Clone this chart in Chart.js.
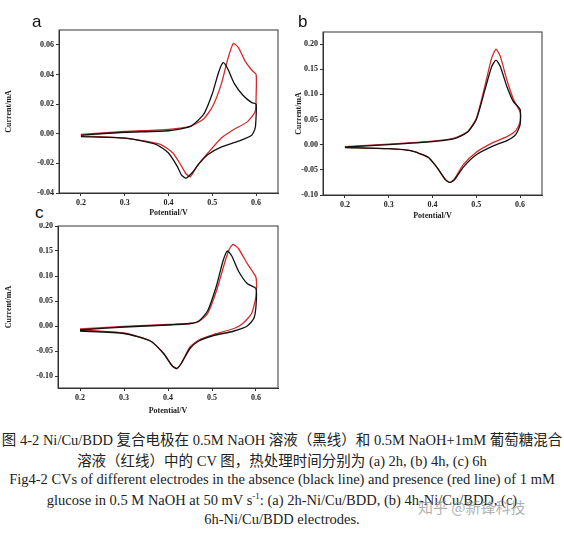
<!DOCTYPE html>
<html><head><meta charset="utf-8">
<script src="https://cdn.jsdelivr.net/npm/chart.js@4"></script>
<style>
body{margin:0;background:#fff;width:564px;height:533px;position:relative;overflow:hidden;font-family:"Liberation Serif","Noto Sans CJK SC",serif}
.box{position:absolute}
.lbl{position:absolute;font-family:"Liberation Sans",Arial,sans-serif;font-size:17px;color:#111}
.cap{position:absolute;left:0;width:564px;text-align:center;font-size:14.5px;color:#222;white-space:nowrap}
.wm{position:absolute;left:418px;top:496px;font-family:"Noto Sans CJK SC";font-size:15px;color:rgba(150,150,150,0.75)}
</style></head><body>
<div class="box" style="left:0;top:0;width:290px;height:222px"><canvas id="ca"></canvas></div>
<div class="box" style="left:290px;top:0;width:274px;height:225px"><canvas id="cb"></canvas></div>
<div class="box" style="left:0;top:200px;width:290px;height:222px;background:transparent"><canvas id="cc"></canvas></div>
<div class="lbl" style="left:32px;top:12px">a</div>
<div class="lbl" style="left:298px;top:12px">b</div>
<div class="lbl" style="left:33px;top:203px;background:#fff;padding:0 2px">c</div>
<div class="cap" style="top:428px">图 4-2 Ni/Cu/BDD 复合电极在 0.5M NaOH 溶液（黑线）和 0.5M NaOH+1mM 葡萄糖混合</div>
<div class="cap" style="top:449px">溶液（红线）中的 CV 图，热处理时间分别为 (a) 2h, (b) 4h, (c) 6h</div>
<div class="cap" style="top:471px">Fig4-2 CVs of different electrodes in the absence (black line) and presence (red line) of 1 mM</div>
<div class="cap" style="top:491px">glucose in 0.5 M NaOH at 50 mV s<sup style="font-size:9px">-1</sup>: (a) 2h-Ni/Cu/BDD, (b) 4h-Ni/Cu/BDD, (c)</div>
<div class="cap" style="top:511px">6h-Ni/Cu/BDD electrodes.</div>
<div class="wm">知乎 @新锋科技</div>
<script>
// Panel a
const aBlackX=[0.2,0.3,0.4,0.45,0.48,0.5,0.515,0.525,0.535,0.55,0.57,0.59,0.6,0.6,0.598,0.59,0.56,0.52,0.49,0.47,0.455,0.44,0.43,0.42,0.4,0.37,0.3,0.2];
const aBlackY=[-0.001,0.001,0.002,0.005,0.013,0.027,0.042,0.048,0.044,0.034,0.026,0.021,0.020,0.012,0.004,-0.001,-0.005,-0.009,-0.014,-0.020,-0.026,-0.030,-0.028,-0.022,-0.013,-0.007,-0.003,-0.002];
const aRedX=[0.2,0.3,0.4,0.45,0.48,0.5,0.52,0.535,0.548,0.56,0.575,0.59,0.6,0.6,0.598,0.58,0.55,0.52,0.49,0.465,0.45,0.44,0.43,0.41,0.38,0.3,0.2];
const aRedY=[-0.0005,0.0015,0.003,0.005,0.010,0.018,0.033,0.050,0.061,0.058,0.049,0.043,0.040,0.025,0.015,0.008,0.003,-0.003,-0.013,-0.022,-0.029,-0.027,-0.022,-0.013,-0.007,-0.003,-0.0015];
// Panel b
const bBlackX=[0.2,0.3,0.4,0.45,0.48,0.5,0.52,0.535,0.545,0.555,0.57,0.585,0.6,0.6,0.59,0.57,0.54,0.5,0.47,0.45,0.44,0.43,0.41,0.39,0.35,0.3,0.2];
const bBlackY=[-0.005,0.0,0.006,0.012,0.025,0.05,0.11,0.155,0.168,0.155,0.115,0.085,0.07,0.04,0.02,0.008,-0.002,-0.02,-0.045,-0.07,-0.075,-0.07,-0.045,-0.025,-0.012,-0.008,-0.006];
const bRedX=[0.2,0.3,0.4,0.45,0.48,0.5,0.52,0.535,0.545,0.555,0.57,0.585,0.6,0.6,0.59,0.57,0.54,0.5,0.47,0.45,0.44,0.43,0.41,0.39,0.35,0.3,0.2];
const bRedY=[-0.004,0.001,0.007,0.013,0.026,0.052,0.118,0.172,0.19,0.175,0.128,0.09,0.065,0.045,0.028,0.016,0.005,-0.015,-0.04,-0.068,-0.075,-0.07,-0.045,-0.025,-0.012,-0.008,-0.005];
// Panel c
const cBlackX=[0.2,0.3,0.4,0.45,0.47,0.49,0.51,0.525,0.535,0.545,0.56,0.58,0.6,0.6,0.595,0.58,0.55,0.5,0.47,0.45,0.43,0.42,0.41,0.39,0.36,0.3,0.2];
const cBlackY=[-0.008,-0.002,0.002,0.005,0.01,0.03,0.08,0.13,0.15,0.14,0.11,0.085,0.075,0.04,0.015,0.0,-0.01,-0.02,-0.03,-0.045,-0.075,-0.085,-0.08,-0.055,-0.03,-0.015,-0.01];
const cRedX=[0.2,0.3,0.4,0.45,0.47,0.49,0.51,0.53,0.54,0.548,0.56,0.58,0.6,0.6,0.59,0.57,0.55,0.5,0.47,0.45,0.43,0.42,0.41,0.39,0.36,0.3,0.2];
const cRedY=[-0.006,-0.001,0.003,0.005,0.009,0.025,0.07,0.13,0.155,0.163,0.155,0.125,0.097,0.06,0.025,0.005,-0.005,-0.018,-0.028,-0.042,-0.075,-0.085,-0.08,-0.055,-0.03,-0.014,-0.008];
const xTicks=[0.2,0.3,0.4,0.5,0.6];
const aTicks=[-0.04,-0.02,0,0.02,0.04,0.06];
const bTicks=[-0.10,-0.05,0,0.05,0.10,0.15,0.20];
const cTicks=[-0.10,-0.05,0,0.05,0.10,0.15,0.20];

const frame={id:'frame',afterDraw(c){const a=c.chartArea,x=c.ctx;x.save();x.strokeStyle='#333';x.lineWidth=1;x.strokeRect(a.left,a.top,a.right-a.left,a.bottom-a.top);x.restore();}};
const fnt={family:'"Liberation Serif",serif',size:8,weight:'bold'};
function pts(X,Y){return X.map((v,i)=>({x:v,y:Y[i]}));}
function mk(id,bx,by,rx,ry,ymin,ymax,yt,yw,xh,pad){
 new Chart(document.getElementById(id),{type:'scatter',
 data:{datasets:[
  {data:pts(bx,by),showLine:true,borderColor:'#111',borderWidth:1.3,pointRadius:0,tension:0.2},
  {data:pts(rx,ry),showLine:true,borderColor:'#d42a2a',borderWidth:1.3,pointRadius:0,tension:0.2}]},
 options:{responsive:true,maintainAspectRatio:false,animation:false,layout:{padding:pad},
  plugins:{legend:{display:false},tooltip:{enabled:false}},
  scales:{
   x:{type:'linear',min:0.15,max:0.65,afterBuildTicks:s=>{s.ticks=xTicks.map(v=>({value:v}));},afterFit:s=>{s.height=xh;},
     grid:{drawOnChartArea:false,tickLength:3,color:'#333'},border:{color:'#333'},
     ticks:{color:'#222',font:fnt,padding:2,callback:v=>v.toFixed(1)},
     title:{display:true,text:'Potential/V',color:'#222',font:fnt,padding:{top:3}}},
   y:{min:ymin,max:ymax,afterBuildTicks:s=>{s.ticks=yt.map(v=>({value:v}));},afterFit:s=>{s.width=yw;},
     grid:{drawOnChartArea:false,tickLength:3,color:'#333'},border:{color:'#333'},
     ticks:{color:'#222',font:fnt,padding:2,callback:v=>v.toFixed(2)},
     title:{display:true,text:'Current/mA',color:'#222',font:fnt,padding:{bottom:4}}}}},
 plugins:[frame]});
}
mk('ca',aBlackX,aBlackY,aRedX,aRedY,-0.04,0.07,aTicks,59,29,{top:30,right:12,left:0,bottom:0});
mk('cb',bBlackX,bBlackY,bRedX,bRedY,-0.10,0.224,bTicks,33,30,{top:32,right:22,left:0,bottom:0});
mk('cc',cBlackX,cBlackY,cRedX,cRedY,-0.124,0.20,cTicks,58,32,{top:26,right:12,left:0,bottom:2});
</script></body></html>
